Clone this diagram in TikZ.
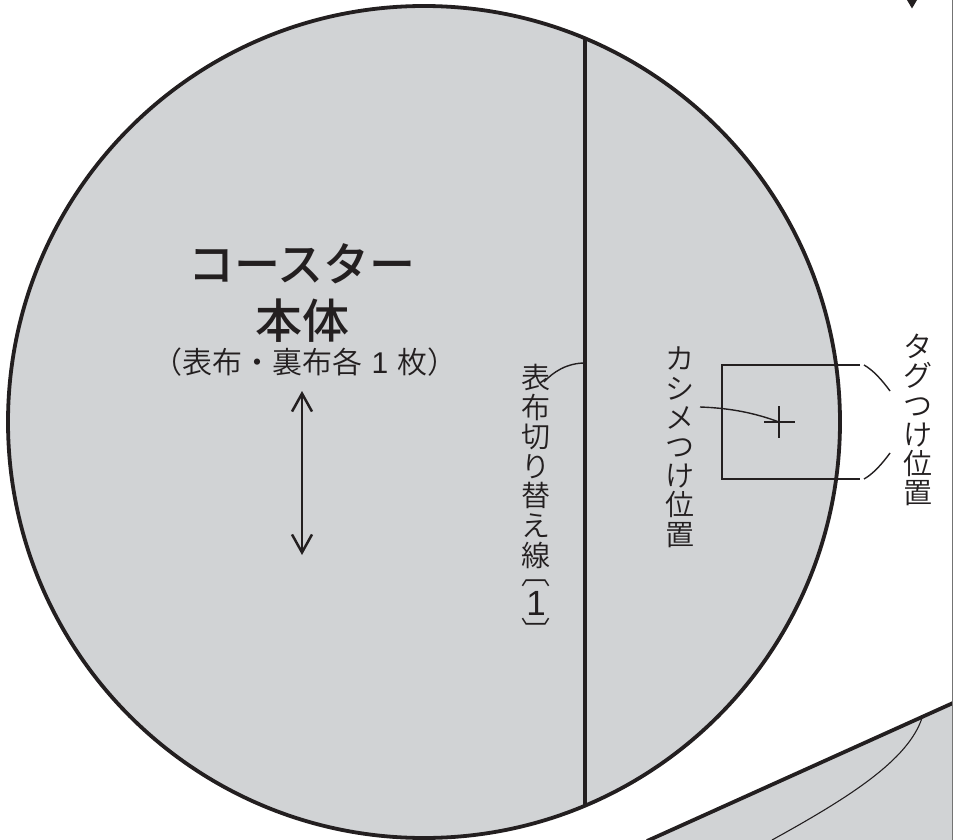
\documentclass[tikz,border=0pt]{standalone}
\usepackage{fontspec}
\usetikzlibrary{arrows.meta}
\setmainfont{Noto Sans CJK JP DemiLight}
\newfontfamily\titlefont{Noto Sans CJK JP Medium}
\newfontfamily\digitfont{Liberation Sans}
\definecolor{panel}{HTML}{D1D3D5}
\definecolor{ink}{HTML}{231F20}
\tikzset{
  outline/.style={draw=ink,line width=3.8pt},
  thin line/.style={draw=ink,line width=1.4pt},
  vlabel/.style={inner sep=0pt,align=center,text=ink,font=\fontsize{29}{29.2}\selectfont},
  glyph/.style={inner sep=0pt,text=ink,font=\fontsize{29}{29}\selectfont},
}
\begin{document}
\begin{tikzpicture}[x=1pt,y=-1pt]
\useasboundingbox (0,0) rectangle (953,840);
\fill[white] (0,0) rectangle (953,840);
% lower right panel
\begin{scope}
\clip (0,0) rectangle (953,840);
\coordinate (edgeA) at (647,841);
\coordinate (edgeB) at (953,703);
\fill[panel] (edgeA) -- (edgeB) -- (953,841) -- cycle;
\draw[outline] (edgeA) -- (edgeB);
\coordinate (seamA) at (922,718);
\coordinate (seamB) at (772,840);
\draw[thin line,line width=1.1pt] (seamA) .. controls (908,760) and (850,797) .. (seamB);
\end{scope}
% page edge
\coordinate (pageT) at (952.4,0);
\coordinate (pageB) at (952.4,840);
\draw[draw=black!55,line width=1.6pt] (pageT) -- (pageB);
% arrow tip at top
\fill[ink] (907,0) -- (917,0) -- (912,8.5) -- cycle;
% main circle
\node[circle,inner sep=0pt,minimum size=832pt,fill=panel,outline] (disc) at (424,422) {};
\coordinate (seamTop) at (585,39);
\coordinate (seamBot) at (585,805);
\draw[outline] (seamTop) -- (seamBot);
% title
\node[inner sep=0pt,text=ink,font=\titlefont\fontsize{46}{46}\selectfont] (title) at (302,264) {コースター};
\node[inner sep=0pt,text=ink,font=\titlefont\fontsize{47}{47}\selectfont] (body) at (302,321) {本体};
\node[inner sep=0pt,text=ink,font=\fontsize{30}{30}\selectfont] (sub) at (305,362) {（表布・裏布各\hspace*{9.5pt}{\digitfont 1}\hspace*{9.5pt}枚）};
\coordinate (arrT) at (302,391);
\coordinate (arrB) at (302,555);
\draw[draw=ink,line width=2.5pt,{Straight Barb[length=18pt,width=20pt]}-{Straight Barb[length=18pt,width=20pt]}] (arrT) -- (arrB);
% vertical labels
\node[vlabel,anchor=north,font=\fontsize{29}{29.6}\selectfont] (lineLabel) at (536,364) {表\\布\\切\\り\\替\\え\\線};
\node[glyph] (brOpen) at (536,583) {︹};
\node[glyph,font=\digitfont\fontsize{35}{35}\selectfont] (brNum) at (536,603) {1};
\node[glyph] (brClose) at (536,630) {︺};
\node[vlabel,anchor=north] (rivetLabel) at (680,347) {カ\\シ\\メ\\つ\\け\\位\\置};
\node[vlabel,anchor=north] (tagLabel) at (918,334) {タ\\グ\\つ\\け\\位\\置};
% tag box
\coordinate (boxTL) at (722,365);
\coordinate (boxTR) at (860,365);
\coordinate (boxBL) at (722,479);
\coordinate (boxBR) at (860,479);
\draw[thin line] (boxTR) -- (boxTL) -- (boxBL) -- (boxBR);
% rivet mark
\coordinate (crossL) at (764,422);
\coordinate (crossR) at (795,422);
\coordinate (crossT) at (779,406);
\coordinate (crossB) at (779,438);
\draw[thin line] (crossL) -- (crossR) (crossT) -- (crossB);
% leaders
\coordinate (leadA) at (700,407);
\coordinate (leadB) at (779,422);
\draw[thin line] (leadA) .. controls (730,408) and (755,413) .. (leadB);
\coordinate (leadC) at (585,363);
\coordinate (leadD) at (544,382);
\draw[thin line] (leadC) .. controls (567,363) and (553,372) .. (leadD);
% tag brackets
\coordinate (brA) at (864,365);
\coordinate (brB) at (890,391);
\coordinate (brC) at (890,453);
\coordinate (brD) at (864,479);
\draw[thin line] (brA) .. controls (873,370) and (882,380) .. (brB);
\draw[thin line] (brC) .. controls (882,464) and (873,474) .. (brD);
\end{tikzpicture}
\end{document}
